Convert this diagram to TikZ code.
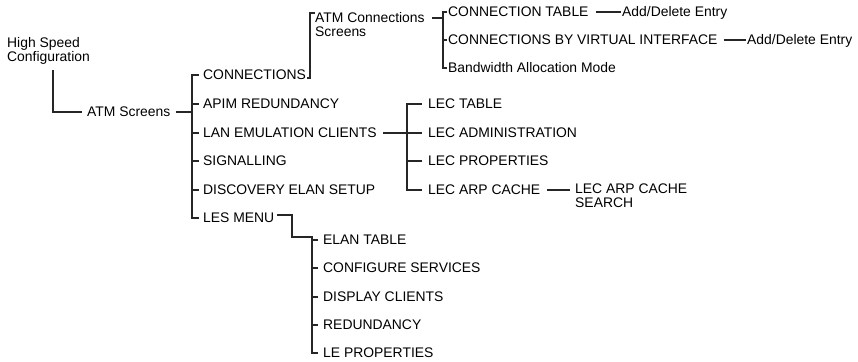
\documentclass[tikz,border=0pt]{standalone}
\usepackage{fontspec}
\setmainfont{Liberation Sans}
\usetikzlibrary{calc}
\tikzset{
  menuitem/.style={anchor=west, inner sep=0pt, text height=9.9pt, text depth=0pt,
                   font=\fontsize{13.9}{14}\selectfont},
  menutwo/.style={anchor=north west, inner sep=0pt, align=left,
                  font=\fontsize{13.9}{14}\selectfont},
  tree/.style={line width=1.2pt, draw=black!85},
}

\begin{document}
\begin{tikzpicture}[x=1pt, y=-1pt]
    \useasboundingbox (0,0) rectangle (858,361);
    % Wurzel
    \node[menutwo] (hsc) at (7,37) {High Speed\\Configuration};
    \node[menuitem] (atm) at (87,112) {ATM Screens};
    % ATM Screens
    \node[menuitem] (conn) at (203,75) {CONNECTIONS};
    \node[menuitem] (apim) at (203,104) {APIM REDUNDANCY};
    \node[menuitem] (lan) at (203,133) {LAN EMULATION CLIENTS};
    \node[menuitem] (sig) at (203,161) {SIGNALLING};
    \node[menuitem] (disc) at (203,190) {DISCOVERY ELAN SETUP};
    \node[menuitem] (lesm) at (203,218) {LES MENU};
    % Connections
    \node[menutwo] (atmc) at (315,12) {ATM Connections\\Screens};
    \node[menuitem] (ctab) at (448,12) {CONNECTION TABLE};
    \node[menuitem] (cvi) at (448,40) {CONNECTIONS BY VIRTUAL INTERFACE};
    \node[menuitem] (bam) at (448,68) {Bandwidth Allocation Mode};
    \node[menuitem] (add1) at (622,12) {Add/Delete Entry};
    \node[menuitem] (add2) at (747,40) {Add/Delete Entry};
    % LAN Emulation
    \node[menuitem] (lect) at (428,104) {LEC TABLE};
    \node[menuitem] (leca) at (428,133) {LEC ADMINISTRATION};
    \node[menuitem] (lecp) at (428,161) {LEC PROPERTIES};
    \node[menuitem] (lecc) at (428,190) {LEC ARP CACHE};
    \node[menutwo] (lecs) at (575,184) {LEC ARP CACHE\\SEARCH};
    % LES Menu
    \node[menuitem] (elan) at (323,240) {ELAN TABLE};
    \node[menuitem] (cfg) at (323,268) {CONFIGURE SERVICES};
    \node[menuitem] (dcl) at (323,297) {DISPLAY CLIENTS};
    \node[menuitem] (red) at (323,325) {REDUNDANCY};
    \node[menuitem] (lep) at (323,353) {LE PROPERTIES};

    \coordinate (mtop) at ([xshift=-11pt]conn.west);
    \coordinate (ctop) at ([xshift=-5pt]ctab.west);
    \coordinate (ltop) at ([xshift=-21pt]lect.west);
    \coordinate (etop) at ([xshift=-11pt]elan.west);

    % Linien
    \draw[tree] ([xshift=46pt,yshift=-6pt]hsc.south west) |- ([xshift=-5pt]atm.west);
    \draw[tree] ([xshift=5pt]atm.east) -- (atm.east -| mtop);
    \draw[tree] ([xshift=-4pt]conn.west) -| ([xshift=-11pt]lesm.west) -- ([xshift=-4pt]lesm.west);
    \foreach \n in {apim,lan,sig,disc}
      \draw[tree] ([xshift=-4pt]\n.west) -- ([xshift=-11pt]\n.west);

    \draw[tree] ([xshift=1pt,yshift=-3pt]conn.east) -| ([xshift=-5pt,yshift=-1pt]atmc.north west)
      -- ([yshift=-1pt]atmc.north west);
    \draw[tree] ([xshift=7pt,yshift=-6pt]atmc.north east) -- ([yshift=-6pt]atmc.north east -| ctop);
    \draw[tree] ([xshift=-1pt]ctab.west) -| ([xshift=-5pt]bam.west) -- ([xshift=-1pt]bam.west);
    \draw[tree] ([xshift=-1pt]cvi.west) -- ([xshift=-5pt]cvi.west);
    \draw[tree] ([xshift=7pt]ctab.east) -- ([xshift=-1pt]add1.west);
    \draw[tree] ([xshift=6pt]cvi.east) -- ([xshift=-1pt]add2.west);

    \draw[tree] ([xshift=6pt]lan.east) -- (lan.east -| ltop);
    \draw[tree] ([xshift=-6pt]lect.west) -| ([xshift=-21pt]lecc.west) -- ([xshift=-6pt]lecc.west);
    \foreach \n in {leca,lecp}
      \draw[tree] ([xshift=-6pt]\n.west) -- ([xshift=-21pt]\n.west);
    \draw[tree] ([xshift=7pt]lecc.east) -- ([xshift=-5pt]lecc.east -| lecs.west);

    \draw[tree] ([xshift=3pt,yshift=3pt]lesm.east) -| ([xshift=-31pt,yshift=3pt]elan.west)
      -- ([yshift=3pt]etop) -- ([xshift=-11pt]lep.west) -- ([xshift=-5pt]lep.west);
    \foreach \n in {elan,cfg,dcl,red}
      \draw[tree] ([xshift=-5pt]\n.west) -- ([xshift=-11pt]\n.west);
  \end{tikzpicture}
\end{document}
